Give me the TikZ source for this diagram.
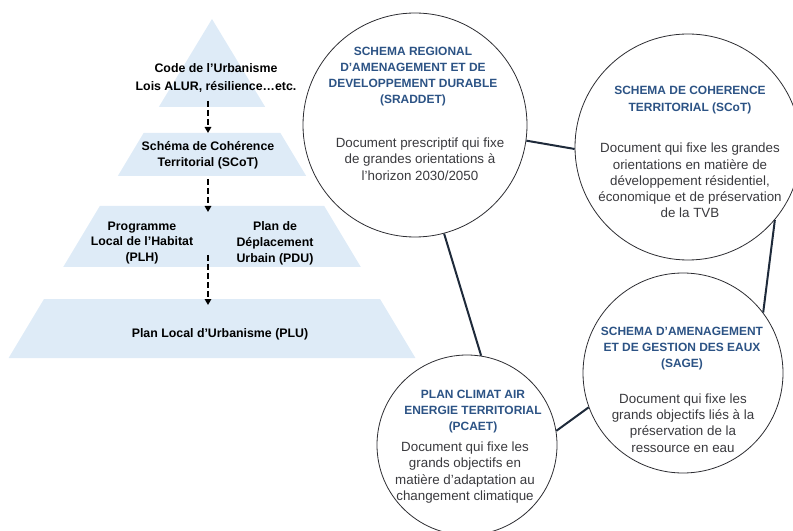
\documentclass[tikz,border=0pt]{standalone}
\usepackage{fontspec}
\setmainfont{Liberation Sans}
\usetikzlibrary{arrows.meta}
\definecolor{pyr}{RGB}{222,235,247}
\definecolor{tblue}{RGB}{44,83,133}
\definecolor{bgray}{RGB}{58,58,62}
\definecolor{ringc}{RGB}{45,45,50}
\definecolor{connc}{RGB}{30,42,58}
\begin{document}
\begin{tikzpicture}[x=1bp,y=-1bp,
  ptxt/.style={font=\fontsize{12.4}{16}\selectfont\bfseries, align=center, inner sep=0pt},
  ttl/.style={font=\fontsize{12}{16.3}\selectfont\bfseries, text=tblue, align=center, inner sep=0pt},
  body/.style={font=\fontsize{13.4}{16.3}\selectfont, text=bgray, align=center, inner sep=0pt},
  ring/.style={circle, draw=ringc, fill=white, line width=0.8bp, inner sep=0pt},
  conn/.style={draw=connc, line width=2bp},
  darr/.style={draw=black, dash pattern=on 6bp off 3bp, line width=1.8bp, -{Triangle[length=6bp,width=6.5bp]}}
]
\useasboundingbox (0,0) rectangle (793,531);
\clip (0,0) rectangle (793,531);
% pyramid layers
\fill[pyr] (212,19) -- (265.2,107) -- (158.8,107) -- cycle;
\fill[pyr] (143.6,133) -- (280.4,133) -- (306.2,176) -- (117.8,176) -- cycle;
\fill[pyr] (99.8,206) -- (324.2,206) -- (360.8,267) -- (63.2,267) -- cycle;
\fill[pyr] (44,299) -- (380,299) -- (415.4,358) -- (8.6,358) -- cycle;
% pyramid texts
\node[ptxt, font=\fontsize{12.4}{18}\selectfont\bfseries] (code) at (216,78) {Code de l’Urbanisme\\Lois ALUR, résilience…etc.};
\node[ptxt] (scotl) at (208,155) {Schéma de Cohérence\\Territorial (SCoT)};
\node[ptxt] (plh) at (142,243) {Programme\\Local de l’Habitat\\(PLH)};
\node[ptxt] (pdu) at (275,243) {Plan de\\Déplacement\\Urbain (PDU)};
\node[ptxt] (plu) at (220,334) {Plan Local d’Urbanisme (PLU)};
% dashed arrows
\coordinate (a1s) at (208,101); \coordinate (a1e) at (208,133);
\coordinate (a2s) at (208,179); \coordinate (a2e) at (208,212);
\coordinate (a3s) at (208,255); \coordinate (a3e) at (208,305);
\draw[darr] (a1s) -- (a1e);
\draw[darr] (a2s) -- (a2e);
\draw[darr] (a3s) -- (a3e);
% circles
\node[ring, minimum size=224bp] (sraddet) at (415,125) {};
\node[ring, minimum size=226bp] (scot) at (688,147) {};
\node[ring, minimum size=200bp] (sage) at (683,373) {};
\node[ring, minimum size=180bp] (pcaet) at (467,445) {};
% connectors
\draw[conn] (sraddet.-8.6) -- (scot.181.5);
\draw[conn] (scot.-40) -- (sage.37);
\draw[conn] (sage.200.6) -- (pcaet.9.4);
\draw[conn] (pcaet.81.6) -- (sraddet.-75);
% circle texts
\node[ttl] (t1) at (413,76.5) {SCHEMA REGIONAL\\D’AMENAGEMENT ET DE\\DEVELOPPEMENT DURABLE\\(SRADDET)};
\node[body] (b1) at (420,159) {Document prescriptif qui fixe\\de grandes orientations à\\l’horizon 2030/2050};
\node[ttl] (t2) at (690,100) {SCHEMA DE COHERENCE\\TERRITORIAL (SCoT)};
\node[body] (b2) at (690,180.5) {Document qui fixe les grandes\\orientations en matière de\\développement résidentiel,\\économique et de préservation\\de la TVB};
\node[ttl] (t3) at (682,348.5) {SCHEMA D’AMENAGEMENT\\ET DE GESTION DES EAUX\\(SAGE)};
\node[body] (b3) at (683,423) {Document qui fixe les\\grands objectifs liés à la\\préservation de la\\ressource en eau};
\node[ttl] (t4) at (473,411.5) {PLAN CLIMAT AIR\\ENERGIE TERRITORIAL\\(PCAET)};
\node[body] (b4) at (465,472.5) {Document qui fixe les\\grands objectifs en\\matière d’adaptation au\\changement climatique};
\end{tikzpicture}
\end{document}
